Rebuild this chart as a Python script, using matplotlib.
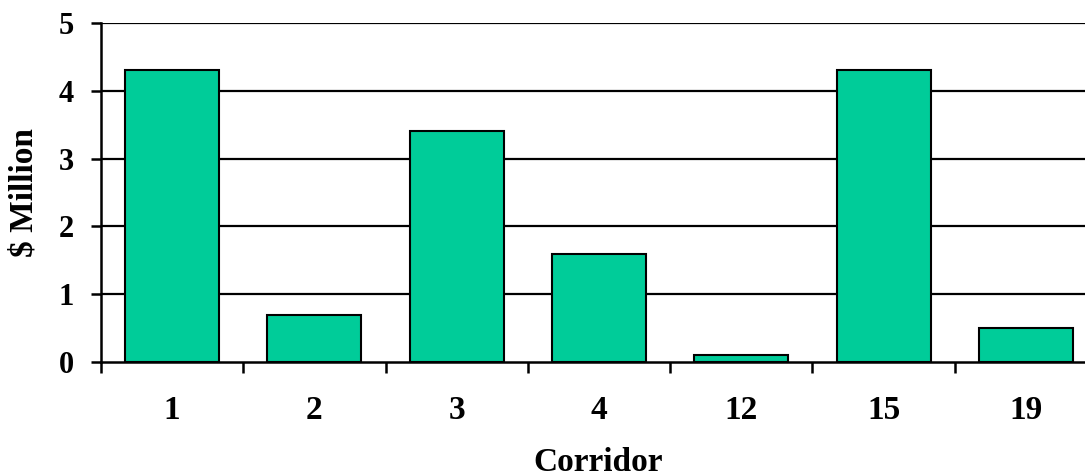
import numpy as np
import matplotlib
matplotlib.use('Agg')
from matplotlib import pyplot as plt

corridors = ['1', '2', '3', '4', '12', '15', '19']
cost_million = [4.3, 0.7, 3.4, 1.6, 0.1, 4.3, 0.5]
y_ticks = [0, 1, 2, 3, 4, 5]

plt.rcParams['font.family'] = ['Liberation Serif', 'DejaVu Serif']
plt.rcParams['font.weight'] = 'bold'

W, H = 1085, 476
fig = plt.figure(figsize=(W / 100, H / 100), dpi=100)
ax = fig.add_axes([101 / W, 114 / H, 996 / W, 339 / H])

x = np.arange(len(corridors))
ax.bar(x, cost_million, width=0.66, color='#00CC99', edgecolor='black',
       linewidth=1.5, zorder=3)

ax.set_xlim(-0.5, len(corridors) - 0.5)
ax.set_ylim(0, 5)
ax.set_yticks(y_ticks)
ax.set_yticklabels([str(v) for v in y_ticks], fontsize=22, fontweight='bold')
for v in y_ticks[1:]:
    ax.axhline(v, color='black', linewidth=1.6, zorder=1)

# category labels centred, tick marks between categories
ax.set_xticks(x)
ax.set_xticklabels(corridors, fontsize=24, fontweight='bold')
ax.tick_params(axis='x', which='major', length=0, pad=24)
ax.set_xticks(np.arange(-0.5, len(corridors), 1.0), minor=True)
ax.tick_params(axis='x', which='minor', length=8, width=1.8, direction='out')
ax.tick_params(axis='y', length=7.5, width=1.8, pad=12)

for side in ['top', 'right']:
    ax.spines[side].set_visible(False)
for side in ['left', 'bottom']:
    ax.spines[side].set_linewidth(1.8)
ax.spines['bottom'].set_zorder(4)

ax.set_ylabel('$ Million', fontsize=24, fontweight='bold', labelpad=14)
fig.text(598 / W, 5 / H, 'Corridor', fontsize=24, fontweight='bold',
         ha='center', va='baseline')

fig.savefig('out.png', dpi=100)
